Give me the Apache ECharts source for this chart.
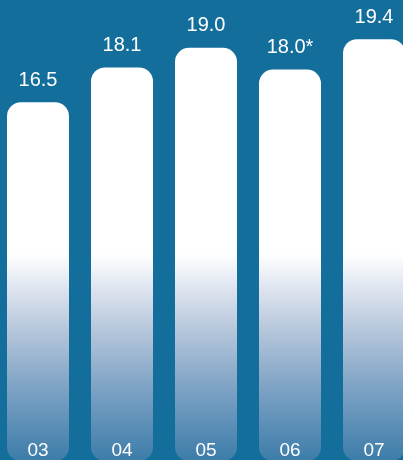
<!DOCTYPE html>
<html>
<head>
<meta charset="utf-8">
<style>
  html, body { margin: 0; padding: 0; background: #146e9c; }
  #chart { width: 403px; height: 460px; }
</style>
<script src="https://cdn.jsdelivr.net/npm/echarts@6/dist/echarts.min.js"></script>
</head>
<body>
<div id="chart"></div>
<script>
// Yearly figures, 2003–2007
const years = ['03', '04', '05', '06', '07'];
const values = [16.5, 18.1, 19.0, 18.0, 19.4];
const notes = ['', '', '', '*', ''];

const chart = echarts.init(document.getElementById('chart'));

// Shared vertical fade: white at the top, easing into blue toward the baseline
const barFill = new echarts.graphic.LinearGradient(0, 0, 0, 461, [
  { offset: 0.0, color: '#ffffff' },
  { offset: 0.55, color: '#ffffff' },
  { offset: 0.6, color: '#e9edf5' },
  { offset: 0.72, color: '#b4c5da' },
  { offset: 0.84, color: '#7ea3c5' },
  { offset: 1.0, color: '#3c7ca9' }
], true);

chart.setOption({
  backgroundColor: '#146e9c',
  animation: false,
  grid: {
    left: -4, right: -13, top: 0, bottom: -1,
    containLabel: false,
    outerBoundsMode: 'none'
  },
  xAxis: {
    type: 'category',
    data: years,
    axisLine: { show: false },
    axisTick: { show: false },
    axisLabel: {
      inside: true,
      margin: 1,
      color: '#ffffff',
      fontSize: 19,
      fontFamily: 'Liberation Sans, Arial, sans-serif'
    },
    z: 10
  },
  yAxis: {
    type: 'value',
    min: 0,
    max: 21.2,
    show: false,
    splitLine: { show: false }
  },
  series: [{
    type: 'bar',
    data: values,
    barWidth: 62,
    itemStyle: {
      color: barFill,
      borderRadius: 14
    },
    label: {
      show: true,
      position: 'top',
      distance: 12,
      color: '#ffffff',
      fontSize: 20,
      fontFamily: 'Liberation Sans, Arial, sans-serif',
      formatter: p => p.value.toFixed(1) + notes[p.dataIndex]
    }
  }]
});
</script>
</body>
</html>
